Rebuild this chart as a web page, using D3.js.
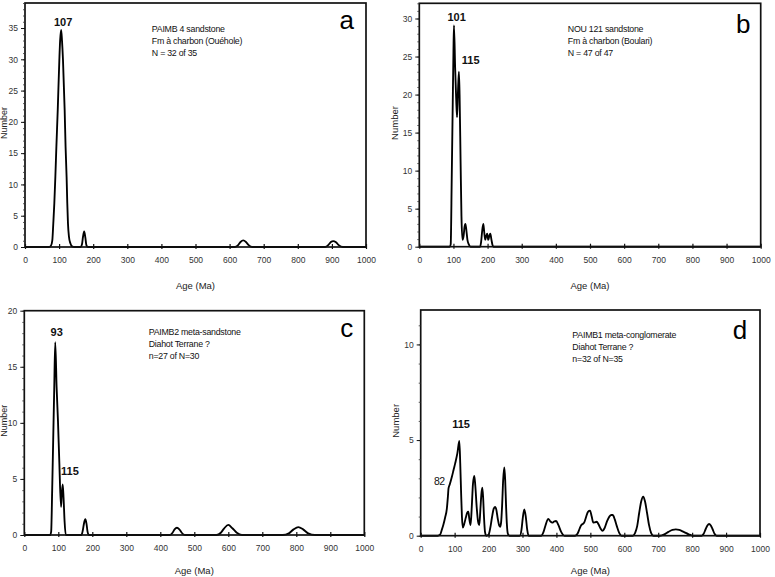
<!DOCTYPE html>
<html><head><meta charset="utf-8">
<script src="https://cdn.jsdelivr.net/npm/d3@7"></script>
<style>
body{margin:0;background:#fff}
svg{display:block}
text{font-family:"Liberation Sans",Arial,sans-serif}
</style>
</head><body>
<svg id="chart" width="775" height="577"></svg>
<script>
// ---- data ----
const xTickValues = [0,100,200,300,400,500,600,700,800,900,1000];
const yTicksA = [0,5,10,15,20,25,30,35];
const yTicksB = [0,5,10,15,20,25,30];
const yTicksC = [0,5,10,15,20];
const yTicksD = [0,5,10];

// age (Ma), number
const curveA = [[0,0],[70,0],[76,0.2],[80,1],[83,3.8],[86,7],[89,11.2],[92,16],[96,21.9],[100.7,29.9],[103,33],[106,34.7],[108.5,33],[111.4,29.9],[116.3,21.9],[119,16],[122,11.2],[124,7],[126,3.8],[129,1.6],[133,0.6],[138,0.1],[145,0],
  [163,0],[167,0.4],[170,1.6],[173.5,2.5],[177,1.5],[180,0.3],[184,0],
  [615,0],[625,0.3],[632,0.8],[640,1.05],[648,0.8],[656,0.3],[666,0],
  [880,0],[890,0.35],[897,0.8],[904,0.95],[912,0.75],[920,0.3],[932,0],[1000,0]];

const curveB = [[0,0],[89,0],[92,0.3],[95,9],[98,19],[100,25.5],[101.5,29.1],[105,23.5],[108,19.5],[110.5,17],[113,20],[116,23],[118,20],[121,11],[123.5,4],[126.5,0.9],[130,1.5],[132.5,2.6],[135,3],[137.5,2.3],[141,0.9],[145,0.3],[150,0],
  [178,0],[181,0.6],[184,2],[187.5,3],[190,2],[193,0.9],[196,1.4],[199,1.7],[202,0.9],[205,1.4],[208,1.7],[211,1],[214,0.3],[217,0],[1000,0]];

const curveC = [[0,0],[76,0],[79,0.3],[82,4],[85,8.5],[88,13],[91,17.2],[95,13.2],[99,10.2],[103,6.5],[108,2.5],[110.5,3.8],[113,4.5],[115.5,3.3],[118.5,1.2],[122,0],
  [168,0],[172,0.4],[176,1.1],[179.5,1.4],[183,1],[186,0.3],[190,0],
  [428,0],[436,0.2],[442,0.5],[449,0.65],[456,0.5],[463,0.2],[472,0],
  [565,0],[578,0.2],[588,0.6],[600,0.9],[612,0.6],[625,0.2],[640,0],
  [760,0],[778,0.15],[792,0.5],[806,0.7],[820,0.5],[835,0.15],[855,0],[1000,0]];

const curveD = [[0,0],[50,0],[57,0.05],[62,0.3],[66.6,0.56],[72,0.95],[77,1.4],[80,2.0],[82,2.47],[86,2.7],[91.9,3.08],[97,3.45],[101.6,3.78],[108,4.3],[113.8,4.95],[116.5,3.8],[119,2.3],[121.5,1.0],[124,0.42],[128,0.6],[133,0.95],[137,1.2],[140.3,1.25],[143.5,0.85],[147,0.56],[150.5,1.5],[154,2.7],[158,3.12],[161,2.6],[165,1.5],[169,0.75],[172.7,0.56],[176,1.4],[179,2.2],[181.6,2.51],[184,2.0],[186.5,1.0],[189.5,0.2],[193,0],
  [200,0.05],[205,0.4],[210,0.95],[215,1.4],[219,1.5],[223,1.35],[227,0.9],[231,0.55],[234,0.47],[237,0.7],[240,1.6],[243,2.9],[246.5,3.57],[249,2.9],[251.5,1.6],[254,0.6],[257,0.1],[262,0],
  [292,0],[297,0.3],[301,0.95],[305.4,1.38],[310,0.95],[314,0.3],[318,0],
  [355,0],[362,0.2],[368,0.55],[376,0.88],[382,0.75],[388,0.68],[393,0.74],[399,0.77],[406,0.55],[414,0.2],[424,0],
  [455,0],[462,0.1],[468,0.35],[473,0.55],[477.4,0.61],[482,0.7],[487,0.95],[493,1.25],[499,1.31],[504,1.0],[508.7,0.68],[513,0.7],[518.6,0.73],[524,0.6],[530,0.38],[536,0.25],[542,0.4],[549,0.75],[556,1.0],[562,1.08],[566,1.08],[572,0.85],[578,0.5],[585,0.15],[592,0],
  [625,0],[632,0.15],[638,0.5],[644,1.2],[650,1.8],[656,2.04],[661,1.8],[667,1.2],[673,0.55],[679,0.15],[686,0],
  [705,0],[718,0.07],[730,0.2],[742,0.3],[752,0.33],[762,0.3],[775,0.2],[790,0.07],[803,0],
  [828,0],[834,0.1],[840,0.35],[845,0.53],[850,0.61],[855,0.53],[860,0.35],[866,0.1],[872,0],[1000,0]];

const infoA = ["PAIMB 4 sandstone","Fm à charbon (Ouéhole)","N = 32 of 35"];
const infoB = ["NOU 121 sandstone","Fm à charbon (Boulari)","N = 47 of 47"];
const infoC = ["PAIMB2 meta-sandstone","Diahot Terrane ?","n=27 of N=30"];
const infoD = ["PAIMB1 meta-conglomerate","Diahot Terrane ?","n=32 of N=35"];

const peaksA = [{t:"107", age:112, n:36}];
const peaksB = [{t:"101", age:109.5, n:30.2},{t:"115", age:150.7, n:24.5}];
const peaksC = [{t:"93", age:95.3, n:18.1},{t:"115", age:134.4, n:5.7}];
const peaksD = [{t:"115", age:118.8, n:5.83},{t:"82", age:54.8, n:2.86, bold:false}];

// ---- layout ----
const panels = [
  {letter:"a", data:curveA, yMax:39, yTicks:yTicksA, box:{l:25,r:366,t:3,b:247}, info:infoA, infoAge:372, infoDy:26.3, peaks:peaksA, lx:346.7, ly:29.3, ageDy:42, numDx:-18, numFs:9},
  {letter:"b", data:curveB, yMax:32, yTicks:yTicksB, box:{l:419.3,r:760.7,t:3.3,b:246.7}, info:infoB, infoAge:435, infoDy:26, peaks:peaksB, lx:743.3, ly:33.3, ageDy:42, numDx:-21.6, numFs:9.5},
  {letter:"c", data:curveC, yMax:20, yTicks:yTicksC, box:{l:24.3,r:364.3,t:310.7,b:535}, info:infoC, infoAge:366, infoDy:21, peaks:peaksC, lx:346.7, ly:336.7, ageDy:38.5, numDx:-17.5, numFs:9},
  {letter:"d", data:curveD, yMax:11.8, yTicks:yTicksD, box:{l:420.7,r:760,t:310,b:535.7}, info:infoD, infoAge:447, infoDy:25, peaks:peaksD, lx:740, ly:339.3, ageDy:38, numDx:-21.6, numFs:9.5}
];

const svg = d3.select("#chart");

panels.forEach(p => {
  const {l,r,t,b} = p.box;
  const x = d3.scaleLinear().domain([0,1000]).range([l,r]);
  const y = d3.scaleLinear().domain([0,p.yMax]).range([b,t]);
  const g = svg.append("g");

  // curve
  const line = d3.line().x(d=>x(d[0])).y(d=>y(d[1])).curve(d3.curveMonotoneX);
  g.append("path").datum(p.data).attr("d",line)
    .attr("fill","none").attr("stroke","#000").attr("stroke-width",1.85).attr("stroke-linejoin","round");

  // frame
  g.append("rect").attr("x",l).attr("y",t).attr("width",r-l).attr("height",b-t)
    .attr("fill","none").attr("stroke","#111").attr("stroke-width",1.7);

  // x axis
  const xa = g.append("g").attr("transform",`translate(0,${b})`)
    .call(d3.axisBottom(x).tickValues(xTickValues).tickSize(3).tickPadding(7).tickFormat(d3.format("d")));
  xa.select(".domain").remove();
  xa.selectAll(".tick line").attr("y1",-3).attr("y2",2).attr("stroke","#111").attr("stroke-width",1.2);
  xa.selectAll(".tick text").attr("font-size",8.5).attr("fill","#333").attr("font-family","Liberation Sans, Arial, sans-serif");

  // y minor ticks
  const minor = d3.range(0, Math.floor(p.yMax)+1);
  const ym = g.append("g").attr("transform",`translate(${l},0)`)
    .call(d3.axisLeft(y).tickValues(minor).tickSize(2).tickFormat(""));
  ym.select(".domain").remove();
  ym.selectAll(".tick line").attr("stroke","#333").attr("stroke-width",0.8);

  // y major ticks
  const ya = g.append("g").attr("transform",`translate(${l},0)`)
    .call(d3.axisLeft(y).tickValues(p.yTicks).tickSize(4).tickPadding(3).tickFormat(d3.format("d")));
  ya.select(".domain").remove();
  ya.selectAll(".tick line").attr("stroke","#111").attr("stroke-width",1);
  ya.selectAll(".tick text").attr("font-size",8.5).attr("fill","#333").attr("font-family","Liberation Sans, Arial, sans-serif");

  // axis labels
  g.append("text").attr("x",(l+r)/2).attr("y",b+p.ageDy).attr("text-anchor","middle")
    .attr("font-size",9.5).attr("fill","#222").text("Age (Ma)");
  g.append("text").attr("transform",`translate(${l+p.numDx},${(t+b)/2-2}) rotate(-90)`)
    .attr("text-anchor","middle").attr("font-size",p.numFs).attr("fill","#222").text("Number");

  // info text
  p.info.forEach((s,i) => {
    g.append("text").attr("x",x(p.infoAge)).attr("y",t+p.infoDy+i*12+3)
      .attr("font-size",8.8).attr("letter-spacing",-0.25).attr("fill","#111").text(s);
  });

  // peak labels
  p.peaks.forEach(pk => {
    g.append("text").attr("x",x(pk.age)).attr("y",y(pk.n)+4)
      .attr("text-anchor","middle").attr("font-size",pk.bold===false?10.5:11)
      .attr("font-weight",pk.bold===false?"normal":"bold").attr("letter-spacing",pk.bold===false?-0.6:0)
      .attr("fill","#111").text(pk.t);
  });

  // panel letter
  g.append("text").attr("x",p.lx).attr("y",p.ly).attr("text-anchor","middle")
    .attr("font-size",26).attr("fill","#000").text(p.letter);
});
</script>
</body></html>
